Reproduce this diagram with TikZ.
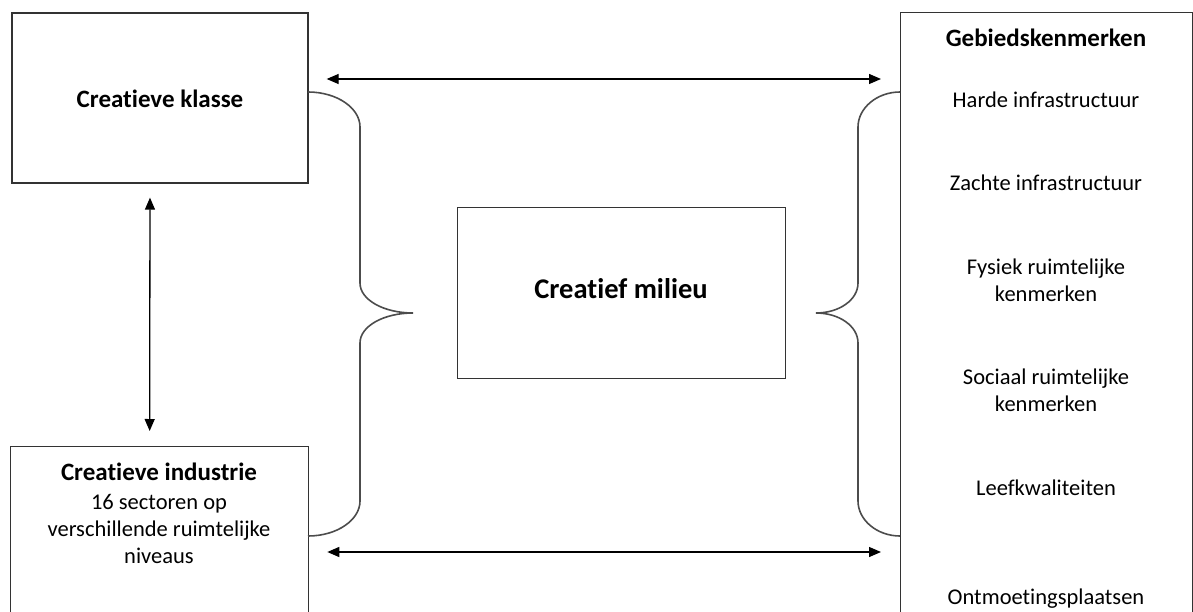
\documentclass[tikz,border=0pt]{standalone}
\usepackage{fontspec}
\setmainfont{Carlito}[Ligatures=NoCommon]
\usetikzlibrary{arrows.meta}
\begin{document}
\begin{tikzpicture}[x=1pt,y=-1pt,
  frame/.style={draw=black!80, line width=1.3pt, inner sep=0pt},
  lbl/.style={font=\fontsize{22.5}{27}\selectfont, inner sep=0pt, align=center},
  ttl/.style={font=\fontsize{25}{30}\selectfont\bfseries, inner sep=0pt},
  arr/.style={{Triangle[length=12pt,width=10pt]}-{Triangle[length=12pt,width=10pt]}, line width=1.3pt},
  brace/.style={draw=black!70, line width=1.6pt}]
\useasboundingbox (0,0) rectangle (1193,612);

% boxes
\node[frame, minimum width=296pt, minimum height=170pt] (k) at (160,98) {};
\node[frame, minimum width=298pt, minimum height=200pt, anchor=north west] (ci) at (10,446) {};
\node[frame, minimum width=292pt, minimum height=640pt, anchor=north west] (g) at (900,12) {};
\node[frame, minimum width=328pt, minimum height=171pt, anchor=north west] (m) at (457,207) {};

% box texts
\node[ttl] (kt) at (160,99) {Creatieve klasse};
\node[ttl] (cit) at (159,472) {Creatieve industrie};
\node[lbl] (cil) at (159,529) {16 sectoren op\\verschillende ruimtelijke\\niveaus};
\node[font=\fontsize{28.5}{34}\selectfont\bfseries, inner sep=0pt] (mt) at (621,289) {Creatief milieu};

\node[ttl] (gt) at (1046,38) {Gebiedskenmerken};
\node[lbl] (g1) at (1046,100) {Harde infrastructuur};
\node[lbl] (g2) at (1046,183) {Zachte infrastructuur};
\node[lbl] (g3) at (1046,280) {Fysiek ruimtelijke\\kenmerken};
\node[lbl] (g4) at (1046,390) {Sociaal ruimtelijke\\kenmerken};
\node[lbl] (g5) at (1046,488) {Leefkwaliteiten};
\node[lbl] (g6) at (1046,599) {Ontmoetingsplaatsen};

% levels of the horizontal arrows
\coordinate (ya) at (0,79);
\coordinate (yb) at (0,552);

% arrows
\draw[arr, shorten <=18pt, shorten >=19pt] (k.east |- ya) -- (g.west |- ya);
\draw[arr, shorten <=18pt, shorten >=19pt] (ci.east |- yb) -- (g.west |- yb);
\draw[arr, shorten <=14pt, shorten >=15pt] ([xshift=-10pt]k.south) -- ([xshift=-10pt]ci.north);

% braces
\coordinate (lt) at (308,92);
\coordinate (lb) at (308,536);
\coordinate (rt) at (900,92);
\coordinate (rb) at (900,536);
\draw[brace] (lt) .. controls (337,92) and (360,108) .. (360,127) -- (360,283)
  .. controls (360,300) and (384,313) .. (413,313)
  .. controls (384,313) and (360,326) .. (360,343) -- (360,501)
  .. controls (360,520) and (337,536) .. (lb);
\draw[brace] (rt) .. controls (877,92) and (858,108) .. (858,127) -- (858,283)
  .. controls (858,300) and (839,313) .. (816,313)
  .. controls (839,313) and (858,326) .. (858,343) -- (858,501)
  .. controls (858,520) and (877,536) .. (rb);
\end{tikzpicture}
\end{document}
